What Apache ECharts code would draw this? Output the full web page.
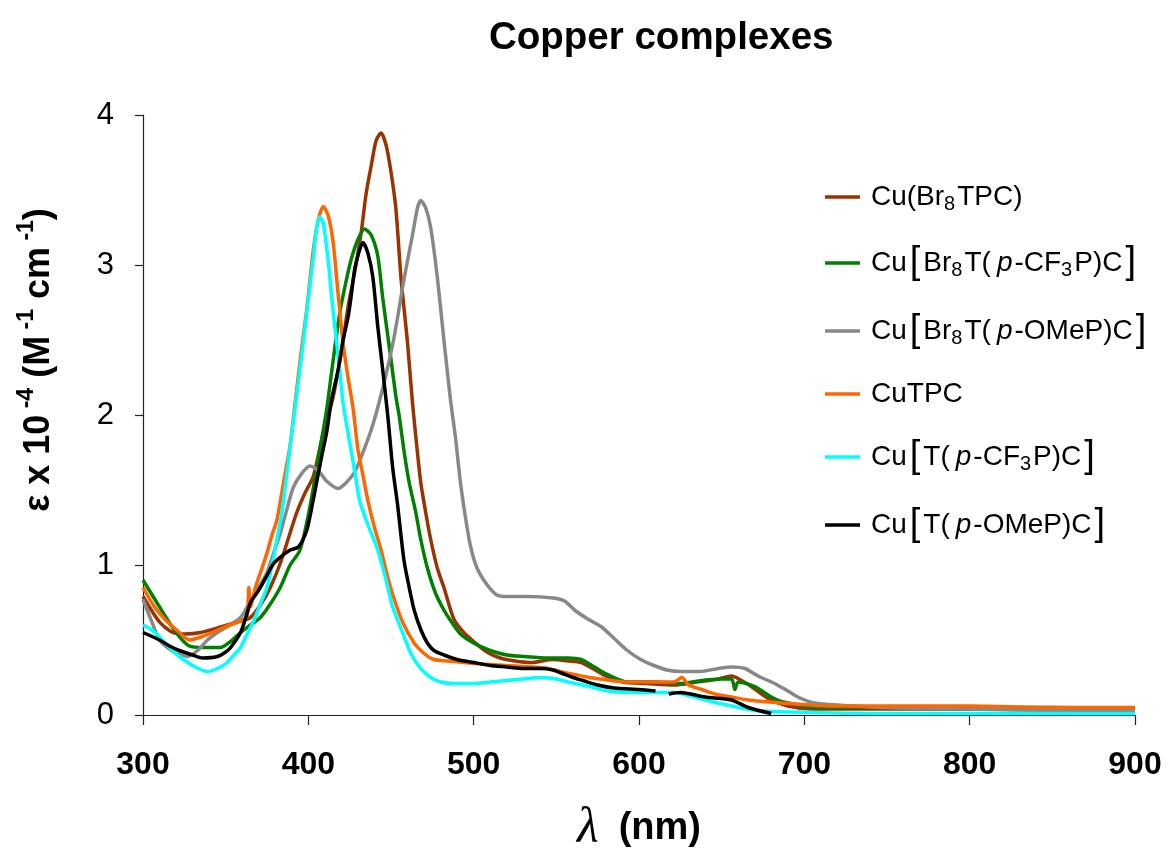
<!DOCTYPE html>
<html>
<head>
<meta charset="utf-8">
<script src="https://cdn.jsdelivr.net/npm/echarts@6/dist/echarts.min.js"></script>
<style>
  html, body { margin: 0; padding: 0; background: #ffffff; }
  #chart { width: 1167px; height: 848px; }
</style>
</head>
<body>
<div id="chart"></div>
<script>
// UV-vis spectra of copper corroles: wavelength (nm) and ε × 10⁻⁴ (M⁻¹ cm⁻¹)

const seriesNames = [
  'Cu(Br8TPC)',
  'Cu[Br8T(p-CF3P)C]',
  'Cu[Br8T(p-OMeP)C]',
  'CuTPC',
  'Cu[T(p-CF3P)C]',
  'Cu[T(p-OMeP)C]'
];

const xTicks = [300, 400, 500, 600, 700, 800, 900];
const yTicks = [0, 1, 2, 3, 4];

// Cu(Br8TPC)
const wlBr8TPC = [300, 310, 318, 325, 335, 348, 357, 365, 372, 377, 383, 388, 393, 398, 403, 409, 415, 420, 424, 428, 432, 435, 438, 441, 444, 447, 450, 453, 456, 460, 463, 466, 468, 471, 474, 478, 482, 488, 494, 500, 508, 516, 525, 535, 548, 558, 565, 572, 580, 590, 605, 621, 635, 648, 656, 662, 668, 678, 690, 705, 750, 800, 850, 900];
const epsBr8TPC = [0.79, 0.62, 0.55, 0.54, 0.55, 0.59, 0.62, 0.65, 0.75, 0.85, 1.01, 1.18, 1.35, 1.48, 1.59, 1.88, 2.12, 2.42, 2.72, 2.95, 3.22, 3.48, 3.66, 3.83, 3.88, 3.80, 3.62, 3.37, 2.92, 2.48, 2.08, 1.75, 1.55, 1.35, 1.17, 0.98, 0.85, 0.64, 0.55, 0.49, 0.42, 0.38, 0.36, 0.35, 0.37, 0.36, 0.35, 0.31, 0.26, 0.22, 0.21, 0.20, 0.22, 0.24, 0.26, 0.23, 0.19, 0.11, 0.06, 0.04, 0.04, 0.04, 0.04, 0.04];

// Cu[Br8T(p-CF3P)C]
const wlBr8CF3 = [300, 310, 320, 328, 337, 347, 353, 359, 365, 371, 377, 383, 389, 395, 401, 407, 411, 414, 419, 423, 426, 430, 434, 438, 442, 445, 450, 453, 455, 458, 461, 465, 468, 472, 477, 482, 486, 492, 500, 510, 520, 530, 545, 557, 565, 573, 581, 593, 610, 625, 638, 650, 656, 658, 660, 670, 680, 686, 700, 707, 800, 850, 900];
const epsBr8CF3 = [0.90, 0.72, 0.55, 0.46, 0.45, 0.45, 0.49, 0.55, 0.60, 0.65, 0.74, 0.85, 1.00, 1.10, 1.39, 1.77, 2.03, 2.28, 2.68, 2.90, 3.04, 3.17, 3.24, 3.20, 3.06, 2.78, 2.37, 2.12, 1.99, 1.75, 1.55, 1.35, 1.17, 0.98, 0.81, 0.70, 0.63, 0.54, 0.48, 0.43, 0.40, 0.39, 0.38, 0.38, 0.37, 0.32, 0.27, 0.22, 0.22, 0.21, 0.23, 0.24, 0.24, 0.17, 0.22, 0.19, 0.12, 0.09, 0.06, 0.05, 0.05, 0.05, 0.04];

// Cu[Br8T(p-OMeP)C]
const wlBr8OMe = [300, 305, 310, 316, 321, 327, 333, 339, 345, 351, 359, 363, 367, 371, 375, 379, 383, 387, 391, 396, 401, 406, 411, 418, 423, 428, 433, 438, 442, 447, 451, 454, 457, 460, 463, 466, 468, 471, 474, 478, 482, 486, 489, 492, 495, 498, 502, 508, 514, 520, 533, 548, 555, 561, 569, 577, 585, 593, 601, 609, 617, 625, 637, 648, 656, 664, 672, 682, 690, 698, 706, 715, 747, 800, 850, 900];
const epsBr8OMe = [0.77, 0.63, 0.50, 0.44, 0.41, 0.39, 0.43, 0.50, 0.55, 0.59, 0.65, 0.72, 0.79, 0.87, 0.95, 1.08, 1.21, 1.37, 1.52, 1.61, 1.66, 1.63, 1.56, 1.51, 1.55, 1.62, 1.75, 1.90, 2.05, 2.27, 2.47, 2.65, 2.85, 3.03, 3.20, 3.38, 3.43, 3.38, 3.25, 2.92, 2.50, 2.10, 1.85, 1.55, 1.32, 1.13, 0.98, 0.87, 0.80, 0.79, 0.79, 0.78, 0.76, 0.70, 0.64, 0.59, 0.51, 0.43, 0.37, 0.33, 0.30, 0.29, 0.29, 0.31, 0.32, 0.31, 0.26, 0.21, 0.16, 0.11, 0.08, 0.07, 0.05, 0.04, 0.03, 0.03];

// CuTPC
const wlTPC = [300, 307, 314, 321, 328, 335, 342, 348, 355, 360, 363, 364, 365, 368, 372, 375, 378, 381, 385, 389, 392, 396, 399, 403, 406, 409, 412, 415, 418, 421, 424, 427, 430, 433, 436, 440, 444, 448, 452, 457, 464, 470, 476, 485, 494, 505, 520, 535, 545, 552, 561, 570, 577, 593, 610, 621, 626, 630, 638, 646, 656, 666, 686, 700, 716, 750, 800, 850, 900];
const epsTPC = [0.85, 0.72, 0.63, 0.56, 0.50, 0.52, 0.55, 0.58, 0.61, 0.63, 0.66, 0.85, 0.72, 0.85, 0.98, 1.08, 1.20, 1.30, 1.55, 1.80, 2.08, 2.45, 2.70, 3.10, 3.30, 3.39, 3.33, 3.15, 2.81, 2.48, 2.25, 2.05, 1.77, 1.60, 1.43, 1.25, 1.10, 0.92, 0.77, 0.62, 0.48, 0.41, 0.37, 0.36, 0.35, 0.34, 0.33, 0.32, 0.31, 0.29, 0.27, 0.25, 0.24, 0.22, 0.22, 0.22, 0.25, 0.20, 0.17, 0.14, 0.12, 0.10, 0.08, 0.07, 0.06, 0.06, 0.06, 0.05, 0.05];

// Cu[T(p-CF3P)C]
const wlCF3 = [300, 305, 310, 316, 322, 330, 339, 345, 351, 355, 359, 363, 367, 371, 375, 378, 381, 384, 388, 392, 396, 399, 403, 405, 407, 409, 412, 414, 416, 419, 421, 424, 428, 431, 436, 442, 447, 451, 457, 462, 468, 474, 480, 488, 500, 510, 520, 530, 541, 550, 557, 570, 581, 600, 621, 630, 640, 656, 670, 690, 750, 800, 900];
const epsCF3 = [0.60, 0.57, 0.52, 0.45, 0.39, 0.33, 0.29, 0.31, 0.35, 0.40, 0.45, 0.54, 0.63, 0.74, 0.85, 1.00, 1.17, 1.35, 1.70, 2.05, 2.40, 2.68, 3.05, 3.25, 3.32, 3.28, 3.03, 2.80, 2.59, 2.30, 2.08, 1.88, 1.63, 1.43, 1.27, 1.10, 0.90, 0.72, 0.55, 0.41, 0.31, 0.25, 0.22, 0.21, 0.21, 0.22, 0.23, 0.24, 0.25, 0.24, 0.22, 0.19, 0.16, 0.15, 0.15, 0.13, 0.10, 0.06, 0.03, 0.02, 0.01, 0.01, 0.01];

// Cu[T(p-OMeP)C]  (null = gap in the recorded trace)
const wlOMe = [300, 310, 316, 322, 330, 336, 345, 350, 353, 359, 363, 365, 368, 371, 375, 379, 384, 389, 394, 399, 402, 405, 408, 411, 414, 418, 421, 424, 426, 428, 431, 433, 436, 439, 442, 445, 448, 451, 454, 456, 458, 461, 464, 468, 472, 476, 482, 490, 500, 510, 520, 530, 541, 548, 553, 560, 566, 575, 585, 600, 610, 614, 618, 625, 640, 656, 666, 680];
const epsOMe = [0.55, 0.50, 0.46, 0.43, 0.40, 0.38, 0.39, 0.42, 0.45, 0.55, 0.68, 0.75, 0.80, 0.85, 0.93, 1.01, 1.06, 1.10, 1.12, 1.23, 1.38, 1.55, 1.72, 1.88, 2.10, 2.30, 2.50, 2.65, 2.80, 2.97, 3.10, 3.15, 3.08, 2.92, 2.59, 2.30, 2.00, 1.65, 1.40, 1.20, 1.02, 0.85, 0.70, 0.57, 0.48, 0.43, 0.40, 0.37, 0.35, 0.33, 0.32, 0.31, 0.31, 0.30, 0.28, 0.25, 0.23, 0.20, 0.18, 0.17, 0.16, null, 0.14, 0.15, 0.12, 0.10, 0.05, 0.01];

const wavelengths = [wlBr8TPC, wlBr8CF3, wlBr8OMe, wlTPC, wlCF3, wlOMe];
const epsilons = [epsBr8TPC, epsBr8CF3, epsBr8OMe, epsTPC, epsCF3, epsOMe];
const colors = ['#993300', '#008000', '#888888', '#ff6600', '#00ffff', '#000000'];

// legend labels with subscripts, italic "p" and tall brackets
const legendRich = {
  'Cu(Br8TPC)': '{t|Cu(Br}{s|8}{t|TPC)}',
  'Cu[Br8T(p-CF3P)C]': '{t|Cu}{b|[}{t|Br}{s|8}{t|T(}{i|p}{t|-CF}{s|3}{t|P)C}{b|]}',
  'Cu[Br8T(p-OMeP)C]': '{t|Cu}{b|[}{t|Br}{s|8}{t|T(}{i|p}{t|-OMeP)C}{b|]}',
  'CuTPC': '{t|CuTPC}',
  'Cu[T(p-CF3P)C]': '{t|Cu}{b|[}{t|T(}{i|p}{t|-CF}{s|3}{t|P)C}{b|]}',
  'Cu[T(p-OMeP)C]': '{t|Cu}{b|[}{t|T(}{i|p}{t|-OMeP)C}{b|]}'
};

const FONT = '"Liberation Sans", Arial, sans-serif';

const series = seriesNames.map((name, k) => ({
  name: name,
  type: 'line',
  showSymbol: false,
  symbol: 'none',
  smooth: 0.25,
  connectNulls: false,
  clip: true,
  lineStyle: { color: colors[k], width: 3.5 },
  itemStyle: { color: colors[k] },
  emphasis: { disabled: true },
  data: wavelengths[k].map((x, i) => [x, epsilons[k][i] === null ? '-' : epsilons[k][i]])
}));

const chart = echarts.init(document.getElementById('chart'), null, { renderer: 'canvas' });
chart.setOption({
  backgroundColor: '#ffffff',
  animation: false,
  title: {
    text: 'Copper complexes',
    left: 484,
    top: 14,
    textStyle: { fontFamily: FONT, fontSize: 38.5, fontWeight: 'bold', color: '#000' }
  },
  grid: { left: 143, right: 32, top: 115, bottom: 133, containLabel: false, outerBoundsMode: 'none' },
  legend: {
    orient: 'vertical',
    left: 820,
    top: 178,
    icon: 'rect',
    itemWidth: 35,
    itemHeight: 3.5,
    itemGap: 30,
    selectedMode: false,
    data: seriesNames,
    formatter: name => legendRich[name],
    textStyle: {
      fontFamily: FONT,
      fontSize: 28,
      color: '#000',
      padding: [0, 0, 0, 6],
      rich: {
        t: { fontFamily: FONT, fontSize: 28, lineHeight: 34, verticalAlign: 'middle', color: '#000' },
        i: { fontFamily: FONT, fontSize: 28, fontStyle: 'italic', lineHeight: 34, verticalAlign: 'middle', color: '#000', padding: [0, 2, 0, 6] },
        s: { fontFamily: FONT, fontSize: 20, lineHeight: 34, verticalAlign: 'bottom', color: '#000', padding: [0, 2, 0, 0] },
        b: { fontFamily: FONT, fontSize: 38, lineHeight: 34, verticalAlign: 'middle', color: '#000', padding: [0, 3, 0, 3] }
      }
    }
  },
  xAxis: {
    type: 'value',
    min: xTicks[0],
    max: xTicks[xTicks.length - 1],
    interval: 100,
    name: '{l|λ}{n|(nm)}',
    nameLocation: 'middle',
    nameGap: 90,
    nameTextStyle: {
      rich: {
        l: { fontFamily: '"Liberation Serif", "Times New Roman", serif', fontStyle: 'italic', fontSize: 50, lineHeight: 48, color: '#000', padding: [0, 20, 0, 0] },
        n: { fontFamily: FONT, fontSize: 38, fontWeight: 'bold', lineHeight: 48, color: '#000' }
      }
    },
    splitLine: { show: false },
    axisLine: { show: true, onZero: false, lineStyle: { color: '#222', width: 1.2 } },
    axisTick: { show: true, inside: false, length: 10, lineStyle: { color: '#222', width: 1.2 } },
    axisLabel: {
      margin: 34,
      fontFamily: FONT,
      fontSize: 32,
      fontWeight: 'bold',
      color: '#000'
    }
  },
  yAxis: {
    type: 'value',
    min: yTicks[0],
    max: yTicks[yTicks.length - 1],
    interval: 1,
    name: '{t|ε x 10}{u| -4}{t| (M}{u| -1}{t| cm}{u| -1}{t|)}',
    nameLocation: 'middle',
    nameRotate: 90,
    nameGap: 86,
    nameTextStyle: {
      padding: [0, 0, 0, 110],
      rich: {
        t: { fontFamily: FONT, fontSize: 36, fontWeight: 'bold', lineHeight: 42, verticalAlign: 'bottom', color: '#000' },
        u: { fontFamily: FONT, fontSize: 23, fontWeight: 'bold', lineHeight: 42, verticalAlign: 'top', color: '#000' }
      }
    },
    splitLine: { show: false },
    axisLine: { show: true, onZero: false, lineStyle: { color: '#222', width: 1.2 } },
    axisTick: { show: true, inside: false, length: 8, lineStyle: { color: '#222', width: 1.2 } },
    axisLabel: {
      margin: 29,
      fontFamily: FONT,
      fontSize: 31,
      color: '#000'
    }
  },
  series: series
});
</script>
</body>
</html>
